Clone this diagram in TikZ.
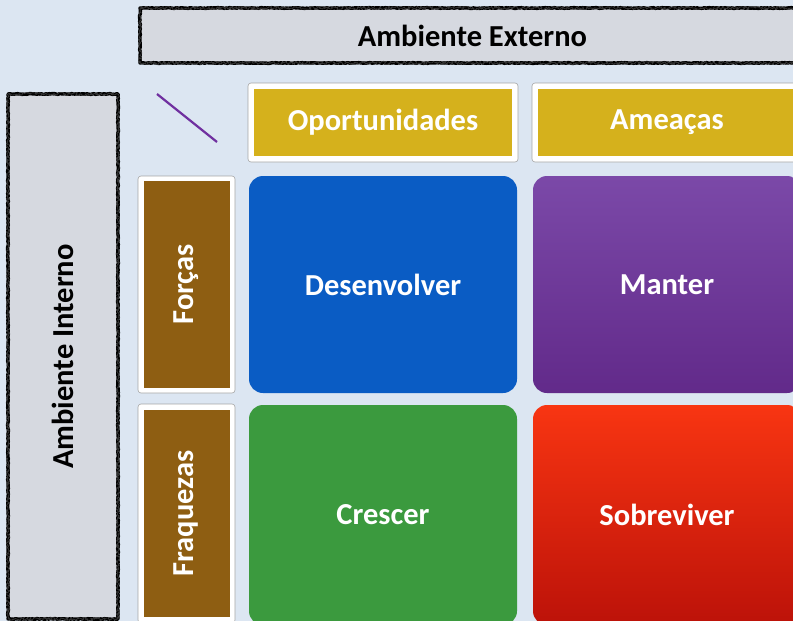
\documentclass[tikz,border=0pt]{standalone}
\usepackage{fontspec}
\setmainfont{Carlito}
\usetikzlibrary{decorations.pathmorphing}

\definecolor{bgblue}{HTML}{DCE6F2}
\definecolor{chalkgray}{HTML}{D6D9E0}
\definecolor{tabgold}{HTML}{D5B11C}
\definecolor{tabbrown}{HTML}{8E5E12}
\definecolor{cellblue}{HTML}{0A5CC4}
\definecolor{purpletop}{HTML}{7B49A8}
\definecolor{purplebot}{HTML}{622A8A}
\definecolor{cellgreen}{HTML}{3B9A3E}
\definecolor{redtop}{HTML}{F83512}
\definecolor{redbot}{HTML}{BC1209}
\definecolor{slashpurple}{HTML}{7030A0}

\tikzset{
    bigtext/.style={font=\bfseries\fontsize{30.5}{34}\selectfont},
    chalkbox/.style={bigtext, fill=chalkgray, inner sep=0pt,
        postaction={draw=black, line width=3.4pt, line join=round, decorate,
            decoration={random steps, segment length=1.5pt, amplitude=0.4pt}},
        postaction={draw=black!80, line width=0.8pt, line join=round, decorate,
            decoration={random steps, segment length=1pt, amplitude=1.6pt}}},
    tabframe/.style={draw=gray!70, fill=white, line width=0.6pt, rounded corners=3pt, inner sep=0pt},
    tabfill/.style={bigtext, text=white, inner sep=0pt},
    cell/.style={bigtext, text=white, rounded corners=14pt, inner sep=0pt,
        minimum width=268pt},
}

\begin{document}
\begin{tikzpicture}[x=1pt, y=-1pt]
        \useasboundingbox (0,0) rectangle (793,621);
        \clip (0,0) rectangle (793,621);
        \fill[bgblue] (0,0) rectangle (793,621);

        % outer frames
        \node[chalkbox, minimum width=665pt, minimum height=55pt] (extern) at (472.5,35.5) {Ambiente Externo};
        \node[chalkbox, minimum width=110pt, minimum height=525pt] (intern) at (63,356.5) {};
        \node[bigtext, rotate=90] (internlabel) at (intern.center) {Ambiente Interno};

        \coordinate (slashA) at (157,94);
        \coordinate (slashB) at (217,142);
        \draw[slashpurple, line width=2.2pt] (slashA) -- (slashB);

        % column heads
        \node[tabframe, minimum width=270pt, minimum height=79pt] (opp) at (383,122.5) {};
        \node[tabfill, fill=tabgold, minimum width=258pt, minimum height=67pt] (oppfill) at (opp.center) {Oportunidades};
        \node[tabframe, minimum width=270pt, minimum height=79pt] (threat) at (667,122.5) {};
        \node[tabfill, fill=tabgold, minimum width=258pt, minimum height=67pt] (threatfill) at (threat.center) {Ameaças};

        % row heads
        \node[tabframe, minimum width=97pt, minimum height=217pt] (force) at (186.5,284.5) {};
        \node[tabfill, fill=tabbrown, minimum width=86pt, minimum height=207pt] (forcefill) at (force.center) {};
        \node[tabfill, rotate=90] (forcelabel) at (force.center) {Forças};
        \node[tabframe, minimum width=97pt, minimum height=219pt] (weak) at (186.5,513.5) {};
        \node[tabfill, fill=tabbrown, minimum width=86pt, minimum height=207pt] (weakfill) at (weak.center) {};
        \node[tabfill, rotate=90] (weaklabel) at (weak.center) {Fraquezas};

        % quadrants
        \node[cell, fill=cellblue, minimum height=217pt] (develop) at (383,284.5) {Desenvolver};
        \node[cell, top color=purpletop, bottom color=purplebot, minimum height=217pt] (keep) at (667,284.5) {Manter};
        \node[cell, fill=cellgreen, minimum height=220pt] (grow) at (383,515) {Crescer};
        \node[cell, top color=redtop, bottom color=redbot, minimum height=220pt] (survive) at (667,515) {Sobreviver};

    \end{tikzpicture}
\end{document}
